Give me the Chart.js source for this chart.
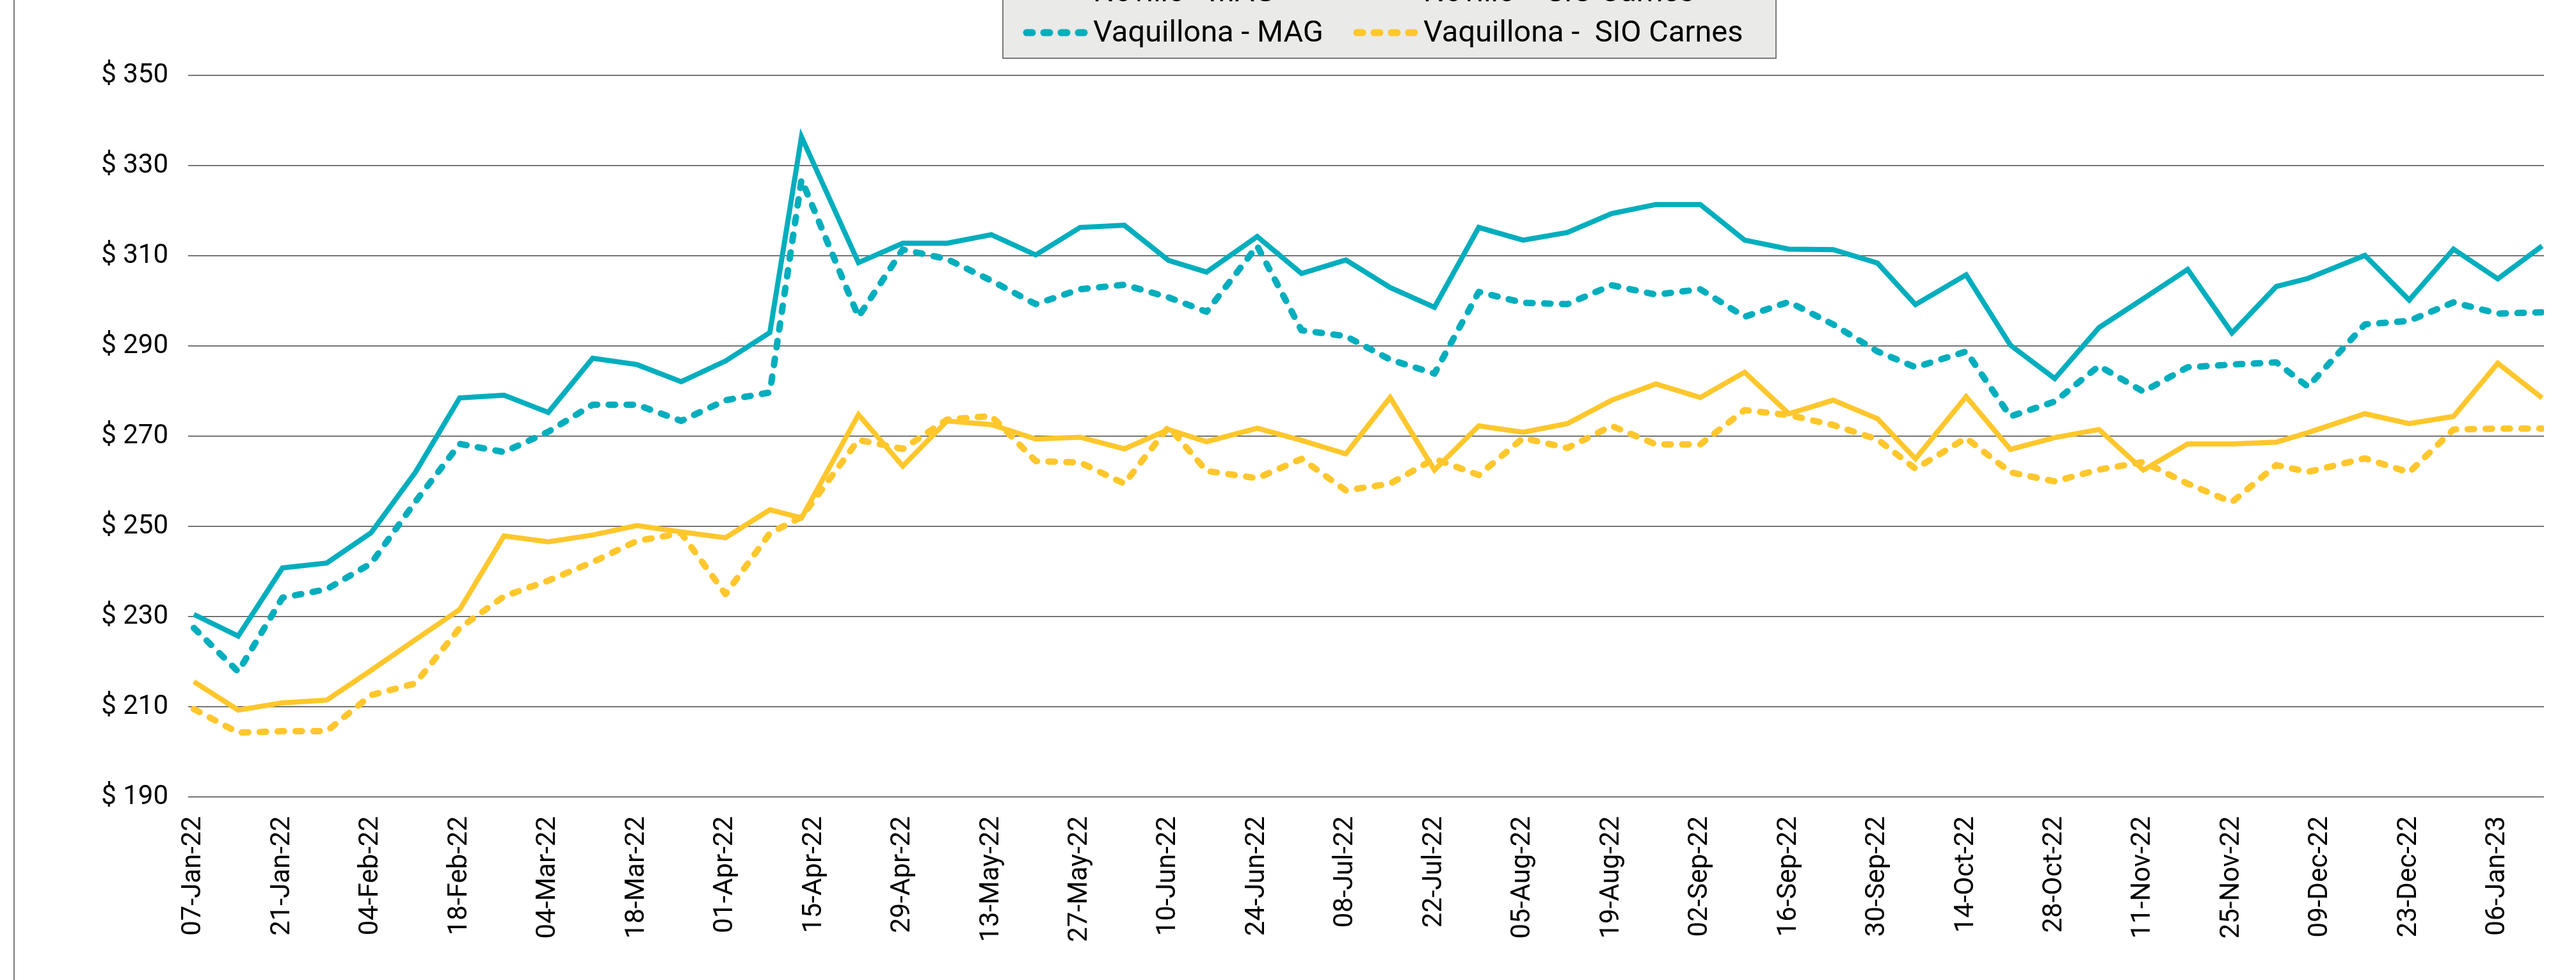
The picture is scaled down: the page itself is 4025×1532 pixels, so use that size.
<!DOCTYPE html>
<html>
<head>
<meta charset="utf-8">
<script src="https://cdn.jsdelivr.net/npm/chart.js@4.4.1/dist/chart.umd.min.js"></script>
<style>
  html, body { margin: 0; padding: 0; background: #fff; overflow: hidden; }
  canvas { display: block; }
</style>
</head>
<body>
<canvas id="myChart" width="4025" height="1532"></canvas>
<script>
// fechas de publicacion (semanal, algunas corridas por feriados)
const fechas = ['07-Jan-22','14-Jan-22','21-Jan-22','28-Jan-22','04-Feb-22','11-Feb-22','18-Feb-22','25-Feb-22',
    '04-Mar-22','11-Mar-22','18-Mar-22','25-Mar-22','01-Apr-22','08-Apr-22','13-Apr-22','22-Apr-22','29-Apr-22',
    '06-May-22','13-May-22','20-May-22','27-May-22','03-Jun-22','10-Jun-22','16-Jun-22','24-Jun-22',
    '01-Jul-22','08-Jul-22','15-Jul-22','22-Jul-22','29-Jul-22','05-Aug-22','12-Aug-22','19-Aug-22','26-Aug-22',
    '02-Sep-22','09-Sep-22','16-Sep-22','23-Sep-22','30-Sep-22','06-Oct-22','14-Oct-22','21-Oct-22','28-Oct-22',
    '04-Nov-22','11-Nov-22','18-Nov-22','25-Nov-22','02-Dec-22','07-Dec-22','16-Dec-22','23-Dec-22','30-Dec-22',
    '06-Jan-23','13-Jan-23']

const novilloMag = [230.5,225.7,240.8,241.9,248.6,262.0,278.5,279.1,275.3,287.3,285.9,282.1,286.7,293.0,336.4,308.5,312.8,312.8,
    314.7,310.2,316.3,316.8,309.0,306.4,314.3,306.1,309.1,303.0,298.6,316.3,313.5,315.2,319.4,321.4,321.4,313.5,311.5,311.4,
    308.4,299.2,305.8,290.2,282.8,294.1,300.5,307.0,292.9,303.2,305.0,310.1,300.2,311.5,304.9,312.2]
const novilloSio = [215.6,209.3,210.9,211.5,218.1,224.9,231.6,247.9,246.6,248.1,250.2,248.8,247.5,253.7,251.9,274.8,263.4,273.4,
    272.6,269.4,269.8,267.2,271.5,268.8,271.8,269.1,266.1,278.6,262.5,272.3,270.9,272.8,278.0,281.6,278.6,284.2,275.0,278.0,
    273.9,265.0,278.8,267.1,269.7,271.5,262.5,268.3,268.3,268.7,270.8,275.0,272.8,274.4,286.2,278.5]
const vaqMag = [227.5,217.8,234.2,236.1,241.8,255.5,268.3,266.5,271.0,277.0,277.0,273.4,278.0,279.7,326.9,296.5,311.4,309.3,
    304.5,299.3,302.6,303.6,300.8,297.6,312.2,293.5,292.2,287.0,283.9,302.0,299.6,299.3,303.5,301.4,302.6,296.5,299.8,294.8,
    288.8,285.3,288.8,274.4,277.7,285.6,279.9,285.3,285.9,286.4,281.0,294.8,295.6,299.7,297.2,297.5]
const vaqSio = [209.5,204.3,204.6,204.6,212.6,215.2,227.5,234.5,238.0,242.1,246.8,248.5,235.0,248.5,252.1,269.2,267.2,273.7,
    274.5,264.5,264.2,259.5,272.1,262.3,260.7,265.0,258.0,259.5,265.0,261.4,269.6,267.4,272.3,268.2,268.2,275.8,274.7,272.5,
    269.3,262.8,269.6,262.0,260.0,262.6,264.3,259.5,255.4,263.6,262.1,265.1,262.0,271.5,271.7,271.7]

const tickLabels = ['07-Jan-22','21-Jan-22','04-Feb-22','18-Feb-22','04-Mar-22','18-Mar-22','01-Apr-22','15-Apr-22',
    '29-Apr-22','13-May-22','27-May-22','10-Jun-22','24-Jun-22','08-Jul-22','22-Jul-22','05-Aug-22','19-Aug-22',
    '02-Sep-22','16-Sep-22','30-Sep-22','14-Oct-22','28-Oct-22','11-Nov-22','25-Nov-22','09-Dec-22','23-Dec-22','06-Jan-23']

const yTicks = [190, 210, 230, 250, 270, 290, 310, 330, 350]

const TEAL = '#00AEBD'
const GOLD = '#FFC72C'

const MESES = ['Jan','Feb','Mar','Apr','May','Jun','Jul','Aug','Sep','Oct','Nov','Dec']
const dia0 = Date.UTC(2022, 0, 7)
function aDia (s) {
    const [d, m, y] = s.split('-')
    return Math.round((Date.UTC(2000 + Number(y), MESES.indexOf(m), Number(d)) - dia0) / 86400000)
}
const tickDias = tickLabels.map(aDia)
const puntos = arr => fechas.map((f, i) => ({ x: aDia(f), y: arr[i] }))

const solid = { borderWidth: 8, pointRadius: 0, tension: 0, borderJoinStyle: 'miter' }
const dotted = { borderWidth: 10, pointRadius: 0, tension: 0, borderDash: [10, 18], borderCapStyle: 'round', borderJoinStyle: 'round' }

const legendPlugin = {
    id: 'marcoLeyenda',
    beforeDraw (chart) {
        const ctx = chart.ctx
        ctx.save()
        ctx.fillStyle = '#fff'
        ctx.fillRect(0, 0, chart.width, chart.height)
        ctx.restore()
    },
    afterDraw (chart) {
        const ctx = chart.ctx
        ctx.save()
        // left frame line
        ctx.strokeStyle = '#7a7a7a'
        ctx.lineWidth = 2
        ctx.beginPath()
        ctx.moveTo(22, 0)
        ctx.lineTo(22, chart.height)
        ctx.stroke()
        // legend box, top cut off
        ctx.fillStyle = '#EAEAE8'
        ctx.fillRect(1567, -60, 1208, 151)
        ctx.strokeStyle = '#7a7a7a'
        ctx.strokeRect(1567, -60, 1208, 151)
        const items = [
            { ds: 0, x: 1600, row: 0 }, { ds: 1, x: 2116, row: 0 },
            { ds: 2, x: 1600, row: 1 }, { ds: 3, x: 2116, row: 1 }
        ]
        ctx.font = '47px Roboto'
        ctx.textBaseline = 'alphabetic'
        items.forEach(it => {
            const ds = chart.data.datasets[it.ds]
            const yLine = it.row ? 51 : -11
            const yText = it.row ? 65 : 2
            ctx.strokeStyle = ds.borderColor
            ctx.lineWidth = ds.borderDash ? 11 : 9
            ctx.setLineDash(ds.borderDash ? [9, 18] : [])
            ctx.lineCap = ds.borderDash ? 'round' : 'butt'
            ctx.beginPath()
            ctx.moveTo(it.x + 4, yLine)
            ctx.lineTo(it.x + 100, yLine)
            ctx.stroke()
            ctx.setLineDash([])
            ctx.fillStyle = '#000'
            ctx.fillText(ds.label, it.x + 108, yText)
        })
        ctx.restore()
    }
}

const ctx = document.getElementById('myChart')
new Chart(ctx, {
    type: 'line',
    data: {
        datasets: [
            { label: 'Novillo - MAG', data: puntos(novilloMag), borderColor: TEAL, ...solid },
            { label: 'Novillo -  SIO Carnes', data: puntos(novilloSio), borderColor: GOLD, ...solid },
            { label: 'Vaquillona - MAG', data: puntos(vaqMag), borderColor: TEAL, ...dotted },
            { label: 'Vaquillona -  SIO Carnes', data: puntos(vaqSio), borderColor: GOLD, ...dotted }
        ]
    },
    options: {
        responsive: false,
        animation: false,
        devicePixelRatio: 1,
        layout: { padding: { top: 118, right: 50, bottom: 0, left: 0 } },
        plugins: { legend: { display: false }, tooltip: { enabled: false } },
        scales: {
            x: {
                type: 'linear',
                min: -0.9,
                max: 371.3,
                grid: { display: false },
                border: { display: false },
                afterBuildTicks: s => { s.ticks = tickDias.map(v => ({ value: v })) },
                afterFit: s => { s.height = 286 },
                ticks: {
                    autoSkip: false,
                    minRotation: 90,
                    maxRotation: 90,
                    padding: 22,
                    color: '#000',
                    font: { family: 'Roboto', size: 42 },
                    callback: v => tickLabels[tickDias.indexOf(v)]
                }
            },
            y: {
                min: 190,
                max: 350,
                afterBuildTicks: s => { s.ticks = yTicks.map(v => ({ value: v })) },
                afterFit: s => { s.width = 294 },
                grid: { color: '#4a4a4a', lineWidth: 1.5, drawTicks: false },
                border: { display: false },
                ticks: {
                    padding: 31,
                    color: '#000',
                    font: { family: 'Roboto', size: 42 },
                    callback: v => '$ ' + v
                }
            }
        }
    },
    plugins: [legendPlugin]
})
</script>
</body>
</html>
